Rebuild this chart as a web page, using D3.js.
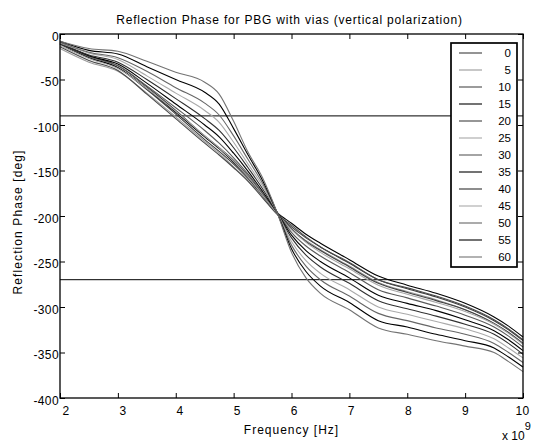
<!DOCTYPE html>
<html>
<head>
<meta charset="utf-8">
<script src="https://cdn.jsdelivr.net/npm/d3@7"></script>
<style>
  body { margin: 0; background: #fff; }
  text { font-family: Arial, "Liberation Sans", sans-serif; fill: #000; }
</style>
</head>
<body>
<div id="chart"></div>
<script>
// Frequency in GHz (axis shows x 10^9 Hz)
const freqGHz = [2, 2.5, 3, 3.5, 4, 4.5, 4.75, 5, 5.25, 5.5, 5.75, 6, 6.25, 6.5, 7, 7.5, 8, 8.5, 9, 9.5, 9.75, 10];

// Incidence angles (legend entries)
const angles = [0, 5, 10, 15, 20, 25, 30, 35, 40, 45, 50, 55, 60];

// Reflection phase [deg] per angle
const phase00 = [-10, -26, -37, -61, -88, -116, -129, -143, -159, -178, -197, -212, -224, -234, -252, -270, -280, -289, -300, -315, -325, -337];
const phase05 = [-16, -31, -41, -65, -91, -118, -131, -146, -161, -179, -198, -215, -227, -237, -255, -273, -283, -292, -303, -318, -328, -340];
const phase10 = [-14, -29, -40, -66, -93, -120, -133, -147, -162, -180, -198, -210, -223, -234, -251, -270, -279, -288, -299, -314, -324, -336];
const phase15 = [-11, -26, -37, -60, -86, -113, -126, -141, -157, -177, -196, -208, -220, -230, -248, -266, -276, -285, -296, -311, -321, -333];
const phase20 = [-9, -24, -35, -58, -84, -112, -125, -139, -156, -176, -196, -214, -228, -238, -256, -274, -284, -293, -303, -318, -328, -340];
const phase25 = [-13, -27, -38, -60, -85, -112, -125, -140, -157, -177, -197, -215, -229, -240, -258, -276, -286, -295, -305, -319, -329, -341];
const phase30 = [-11, -25, -35, -57, -81, -106, -120, -136, -154, -175, -196, -218, -233, -244, -262, -281, -290, -299, -309, -322, -332, -344];
const phase35 = [-10, -24, -33, -54, -77, -100, -113, -131, -151, -173, -196, -221, -238, -250, -268, -287, -296, -304, -314, -326, -336, -348];
const phase40 = [-11, -23, -31, -50, -71, -93, -106, -125, -147, -170, -196, -224, -243, -256, -274, -293, -302, -310, -319, -330, -340, -352];
const phase45 = [-10, -21, -28, -46, -65, -84, -97, -119, -143, -167, -196, -228, -249, -263, -281, -300, -308, -316, -324, -335, -345, -356];
const phase50 = [-9, -20, -26, -41, -59, -76, -89, -112, -138, -164, -196, -232, -255, -270, -288, -307, -315, -323, -330, -340, -350, -361];
const phase55 = [-8, -18, -22, -36, -50, -64, -77, -104, -133, -161, -196, -236, -261, -277, -295, -315, -322, -330, -337, -345, -355, -366];
const phase60 = [-8, -16, -19, -30, -42, -53, -66, -96, -130, -158, -196, -240, -268, -285, -303, -323, -330, -337, -343, -350, -360, -371];

const phaseSeries = [phase00, phase05, phase10, phase15, phase20, phase25, phase30,
                     phase35, phase40, phase45, phase50, phase55, phase60];

// Grey levels of each trace (as printed)
const lineColors = ['#3c3c3c', '#9a9a9a', '#4a4a4a', '#000000', '#404040', '#a8a8a8', '#5a5a5a',
                    '#000000', '#303030', '#aaaaaa', '#666666', '#000000', '#737373'];

const xTicks = [2, 3, 4, 5, 6, 7, 8, 9, 10];
const yTicks = [0, -50, -100, -150, -200, -250, -300, -350, -400];
const refLines = [-90, -270];

const W = 535, H = 442;
const margin = { top: 34, right: 12, bottom: 44, left: 60 };

const svg = d3.select('#chart').append('svg')
    .attr('width', W)
    .attr('height', H)
    .style('display', 'block');

svg.append('rect').attr('width', W).attr('height', H).attr('fill', '#fff');

const x = d3.scaleLinear().domain([2, 10]).range([margin.left, W - margin.right]);
const y = d3.scaleLinear().domain([-400, 0]).range([H - margin.bottom, margin.top]);

// Reference lines at -90 and -270
svg.selectAll('.ref-line')
    .data(refLines)
    .join('line')
        .attr('class', 'ref-line')
        .attr('x1', x(2)).attr('x2', x(10))
        .attr('y1', d => y(d)).attr('y2', d => y(d))
        .attr('stroke', '#000')
        .attr('stroke-width', 1);

// Phase traces
const line = d3.line()
    .x((d, i) => x(freqGHz[i]))
    .y(d => y(d))
    .curve(d3.curveMonotoneX);

svg.selectAll('.trace')
    .data(phaseSeries)
    .join('path')
        .attr('class', 'trace')
        .attr('d', d => line(d))
        .attr('fill', 'none')
        .attr('stroke', (d, i) => lineColors[i])
        .attr('stroke-width', 1.1);

// Axes with inward ticks on all four sides
const styleAxis = g => {
    g.select('.domain').remove();
    g.selectAll('line').attr('stroke', '#000');
    g.selectAll('text')
        .attr('font-size', '12px')
        .attr('letter-spacing', '0.4px')
        .attr('fill', '#000');
};

svg.append('g')
    .attr('transform', `translate(0,${y(-400)})`)
    .call(d3.axisBottom(x).tickValues(xTicks).tickSizeInner(-5).tickSizeOuter(0).tickPadding(8).tickFormat(d => String(d)))
    .call(styleAxis)
    .call(g => g.selectAll('text').attr('dx', d => 5.5 - (d - 2) * 0.8));

svg.append('g')
    .attr('transform', `translate(0,${y(0)})`)
    .call(d3.axisTop(x).tickValues(xTicks).tickSizeInner(-5).tickSizeOuter(0).tickFormat(''))
    .call(styleAxis);

svg.append('g')
    .attr('transform', `translate(${x(2)},0)`)
    .call(d3.axisLeft(y).tickValues(yTicks).tickSizeInner(-5).tickSizeOuter(0).tickPadding(1).tickFormat(d => String(d)))
    .call(styleAxis)
    .call(g => g.selectAll('text').attr('dy', '0.5em'));

svg.append('g')
    .attr('transform', `translate(${x(10)},0)`)
    .call(d3.axisRight(y).tickValues(yTicks).tickSizeInner(-5).tickSizeOuter(0).tickFormat(''))
    .call(styleAxis);

// Plot frame
svg.append('rect')
    .attr('x', x(2)).attr('y', y(0))
    .attr('width', x(10) - x(2)).attr('height', y(-400) - y(0))
    .attr('fill', 'none')
    .attr('stroke', '#000')
    .attr('stroke-width', 1.3);

// Title and axis labels
svg.append('text')
    .attr('x', (x(2) + x(10)) / 2 - 2)
    .attr('y', 24)
    .attr('text-anchor', 'middle')
    .attr('font-size', '12px')
    .attr('letter-spacing', '0.8px')
    .text('Reflection Phase for PBG with vias (vertical polarization)');

svg.append('text')
    .attr('x', (x(2) + x(10)) / 2)
    .attr('y', 434)
    .attr('text-anchor', 'middle')
    .attr('font-size', '12px')
    .attr('letter-spacing', '1px')
    .text('Frequency [Hz]');

svg.append('text')
    .attr('transform', `translate(22,${(y(0) + y(-400)) / 2 + 6}) rotate(-90)`)
    .attr('text-anchor', 'middle')
    .attr('font-size', '12px')
    .attr('letter-spacing', '1.1px')
    .text('Reflection Phase [deg]');

const expo = svg.append('text')
    .attr('x', 502)
    .attr('y', 440)
    .attr('font-size', '12px');
expo.append('tspan').text('x 10');
expo.append('tspan').attr('dy', -10).attr('font-size', '11px').text('9');

// Legend
const legend = svg.append('g');
const legTop = 43, legStep = 17;

legend.append('rect')
    .attr('x', 451).attr('y', legTop)
    .attr('width', 66).attr('height', 224)
    .attr('fill', '#fff')
    .attr('stroke', '#000')
    .attr('stroke-width', 1.7);

const items = legend.selectAll('.leg-item')
    .data(angles)
    .join('g')
        .attr('class', 'leg-item')
        .attr('transform', (d, i) => `translate(0,${legTop + 10 + i * legStep})`);

items.append('line')
    .attr('x1', 459).attr('x2', 482)
    .attr('stroke', (d, i) => lineColors[i])
    .attr('stroke-width', 1.1);

items.append('text')
    .attr('x', 511)
    .attr('dy', '0.36em')
    .attr('text-anchor', 'end')
    .attr('font-size', '11.5px')
    .text(d => d);
</script>
</body>
</html>
